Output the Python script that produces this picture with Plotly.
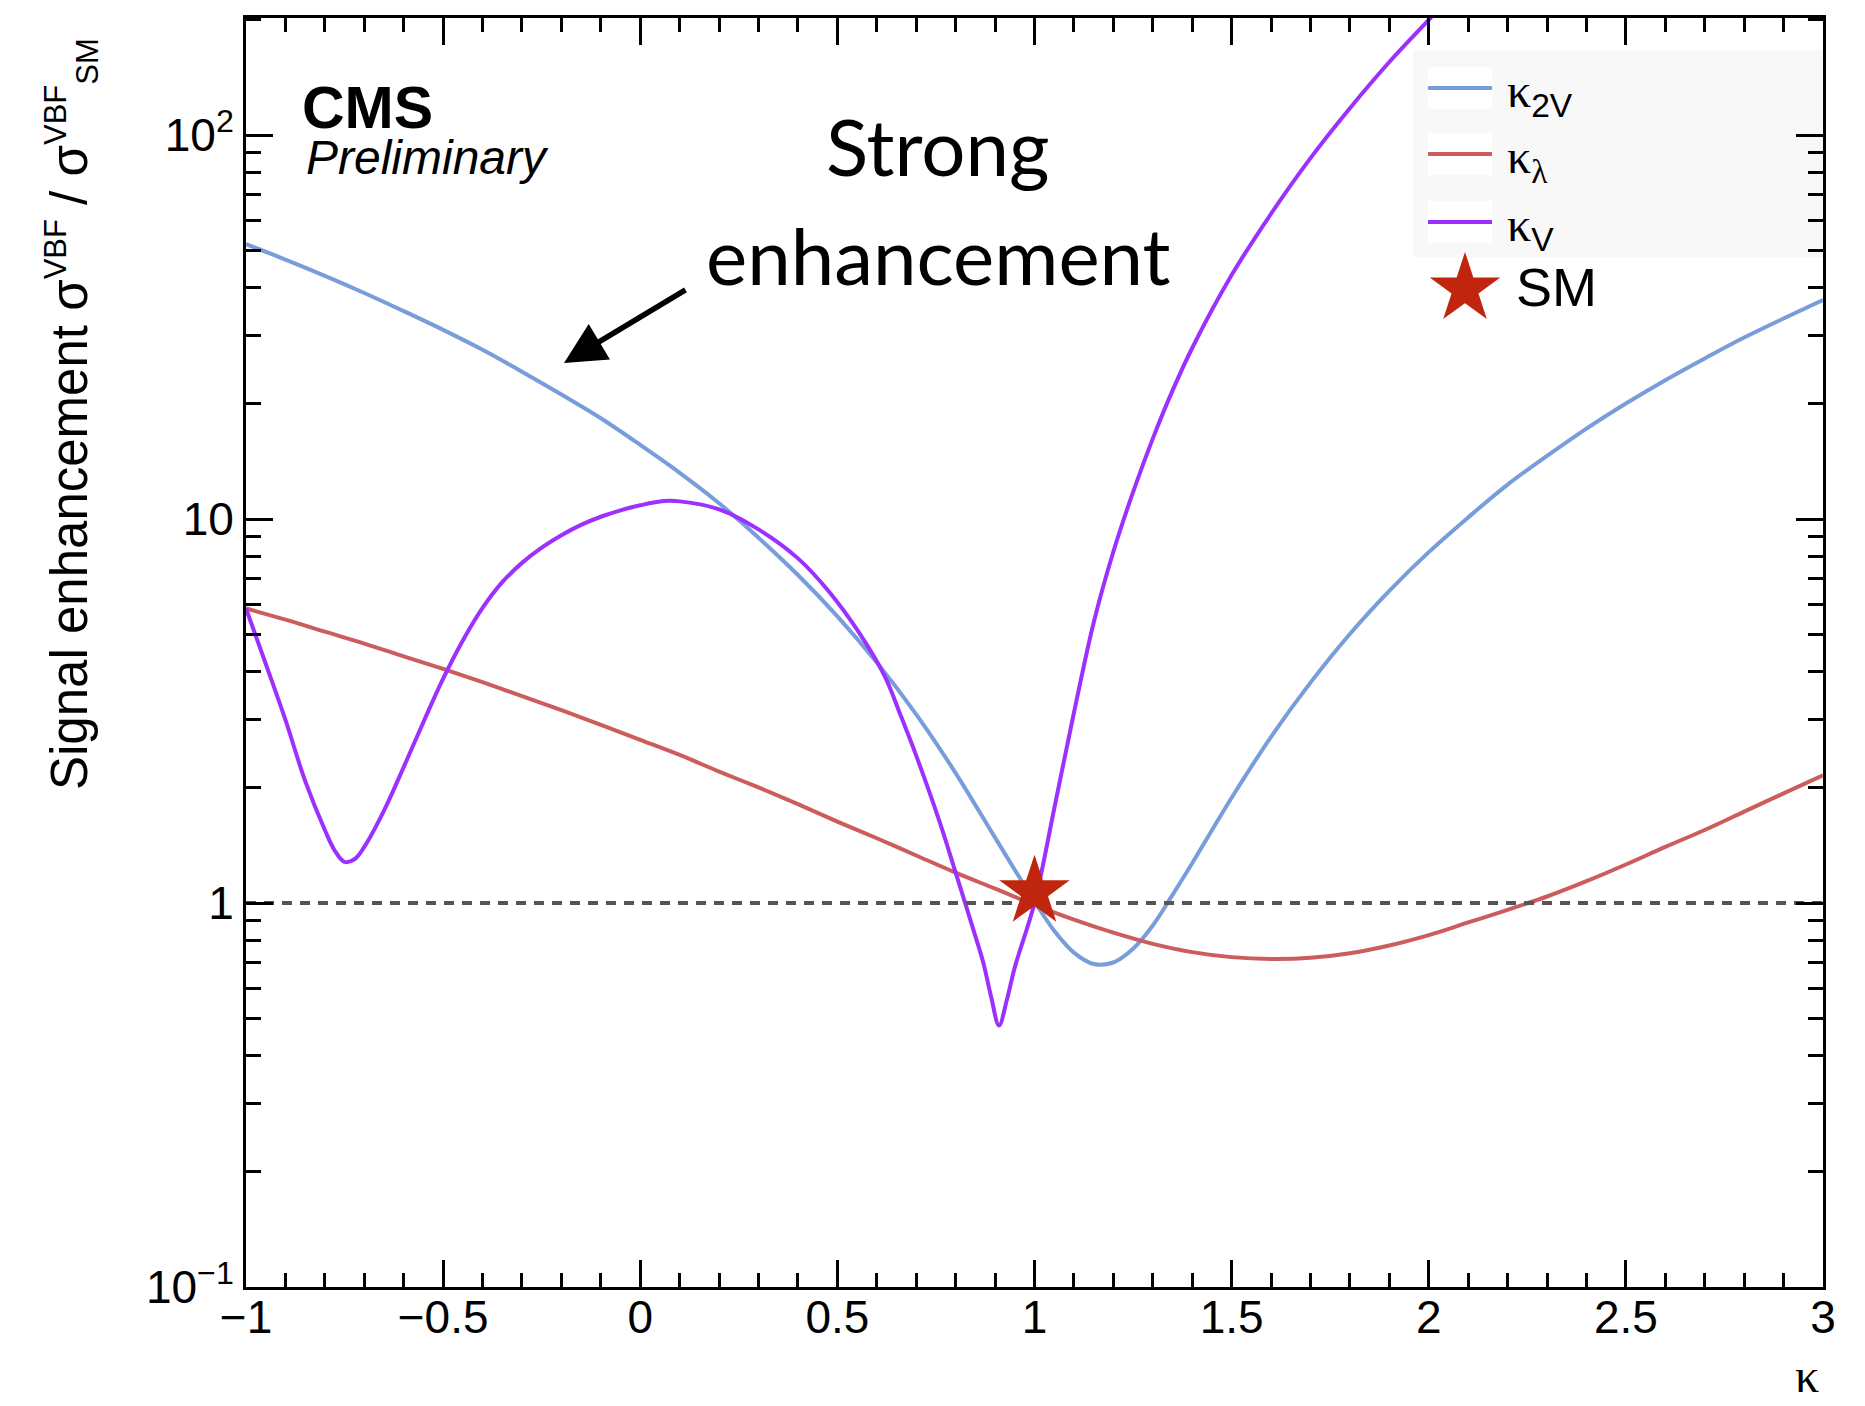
import plotly.graph_objects as go

# ---------------- data ----------------
kappa_2V = [-1.0, -0.9, -0.8, -0.7, -0.6, -0.5, -0.4, -0.3, -0.2, -0.1, 0.0, 0.1, 0.2, 0.3,
            0.4, 0.5, 0.6, 0.7, 0.8, 0.9, 1.0, 1.05, 1.1, 1.15, 1.2, 1.25, 1.3, 1.35, 1.4,
            1.5, 1.6, 1.7, 1.8, 1.9, 2.0, 2.1, 2.2, 2.3, 2.4, 2.5, 2.6, 2.7, 2.8, 2.9, 3.0]
sigma_2V = [52.0, 47.4, 43.0, 38.8, 34.8, 31.1, 27.6, 24.2, 21.1, 18.3, 15.6, 13.2, 11.0, 8.94,
            7.15, 5.58, 4.23, 3.10, 2.18, 1.48, 1.01, 0.847, 0.743, 0.694, 0.70, 0.76, 0.874,
            1.05, 1.27, 1.88, 2.71, 3.75, 5.02, 6.50, 8.20, 10.1, 12.3, 14.6, 17.2, 20.0, 23.0,
            26.2, 29.7, 33.3, 37.2]

kappa_lambda = [-1.0, -0.9, -0.8, -0.7, -0.6, -0.5, -0.4, -0.3, -0.2, -0.1, 0.0, 0.1, 0.2, 0.3,
                0.4, 0.5, 0.6, 0.7, 0.8, 0.9, 1.0, 1.1, 1.2, 1.3, 1.4, 1.5, 1.6, 1.7, 1.8, 1.9,
                2.0, 2.1, 2.2, 2.3, 2.4, 2.5, 2.6, 2.7, 2.8, 2.9, 3.0]
sigma_lambda = [5.85, 5.47, 5.09, 4.74, 4.39, 4.07, 3.76, 3.46, 3.18, 2.91, 2.66, 2.43, 2.20, 2.00,
                1.81, 1.63, 1.475, 1.33, 1.20, 1.09, 0.989, 0.905, 0.837, 0.783, 0.745, 0.723,
                0.715, 0.72, 0.74, 0.775, 0.825, 0.89, 0.96, 1.04, 1.14, 1.26, 1.40, 1.55, 1.73,
                1.93, 2.15]

kappa_V = [-1.0, -0.95, -0.9, -0.85, -0.8, -0.775, -0.75, -0.725, -0.7, -0.65, -0.6, -0.55,
           -0.5, -0.45, -0.4, -0.35, -0.3, -0.25, -0.2, -0.15, -0.1, -0.05, 0.0, 0.06, 0.1,
           0.2, 0.3, 0.4, 0.48, 0.55, 0.62, 0.66, 0.7, 0.76, 0.8, 0.85, 0.87, 0.89, 0.91, 0.93,
           0.95, 1.0, 1.05, 1.1, 1.15, 1.2, 1.25, 1.3, 1.35, 1.4, 1.5, 1.6, 1.7, 1.8, 1.9, 2.0,
           2.05]
sigma_V = [5.85, 4.2, 3.0, 2.08, 1.55, 1.37, 1.28, 1.30, 1.40, 1.74, 2.26, 2.96,
           3.84, 4.83, 5.87, 6.85, 7.69, 8.43, 9.08, 9.66, 10.14, 10.54, 10.86, 11.14, 11.12,
           10.6, 9.4, 7.9, 6.45, 5.15, 3.9, 3.09, 2.42, 1.62, 1.2, 0.82, 0.70, 0.57, 0.48, 0.56,
           0.68, 1.0, 1.76, 3.13, 5.37, 8.22, 11.75, 16.2, 21.6, 27.9, 43.2, 62.4, 87.1, 117.5,
           155.0, 199.5, 226.0]

sm_kappa = [1.0]
sm_value = [1.07]

ref_kappa = [-1.0, 3.0]
ref_value = [1.0, 1.0]

x_tick_step = 0.5
y_tickvals = [0.1, 1, 10, 100]
y_ticktext = ["10<sup>\u22121</sup>", "1", "10", "10<sup>2</sup>"]
y_minor = [m * d for d in (0.1, 1, 10, 100) for m in range(2, 10)]

SANS = "Liberation Sans, Arial, Helvetica, sans-serif"
SERIF = "Liberation Serif, Times New Roman, serif"
legend_labels = [
    "\u03ba<sub><span style='font-family:Liberation Sans'>2V</span></sub>",
    "\u03ba<sub>\u03bb</sub>",
    "\u03ba<sub><span style='font-family:Liberation Sans'>V</span></sub>",
]
y_title = ("Signal enhancement \u03c3<sup><span style='font-size:31px'>VBF</span></sup> / "
           "\u03c3<sup><span style='font-size:31px'>VBF</span></sup>"
           "<sub><span style='font-size:31px'>SM</span></sub>")

# ---------------- style ----------------
BLUE = "#789ddb"
RED = "#cd5c5c"
PURPLE = "#9b30ff"
STAR = "#c0260e"

W, H = 1865, 1406
L, R, T, B = 246, 1823, 18, 1287   # plot area in pixels


def px_x(px):
    return (px - L) / (R - L)


def px_y(py):
    return (B - py) / (B - T)


fig = go.Figure()

for xs, ys, col in [(kappa_2V, sigma_2V, BLUE), (kappa_lambda, sigma_lambda, RED),
                    (kappa_V, sigma_V, PURPLE)]:
    fig.add_trace(go.Scatter(x=xs, y=ys, mode="lines",
                             line=dict(color=col, width=4, shape="spline", smoothing=1.0),
                             showlegend=False, hoverinfo="skip"))

fig.add_trace(go.Scatter(x=ref_kappa, y=ref_value, mode="lines",
                         line=dict(color="#555555", width=4, dash="10px,8px"),
                         showlegend=False, hoverinfo="skip"))

fig.add_trace(go.Scatter(x=sm_kappa, y=sm_value, mode="markers",
                         marker=dict(symbol="star", size=53, color=STAR, line=dict(width=0)),
                         showlegend=False, hoverinfo="skip", cliponaxis=False))

# legend star on an invisible overlay axis
fig.add_trace(go.Scatter(x=[px_x(1465)], y=[px_y(289)], mode="markers", xaxis="x2", yaxis="y2",
                         marker=dict(symbol="star", size=53, color=STAR, line=dict(width=0)),
                         showlegend=False, hoverinfo="skip", cliponaxis=False))

shapes = []
# legend background
shapes.append(dict(type="rect", xref="paper", yref="paper", x0=px_x(1413), x1=1.0,
                   y0=px_y(257), y1=px_y(50), fillcolor="#f8f8f8", line=dict(width=0),
                   layer="below"))
annotations = []
legend_y = [88, 154, 222]
for ly, col, lab in zip(legend_y, [BLUE, RED, PURPLE], legend_labels):
    shapes.append(dict(type="rect", xref="paper", yref="paper", x0=px_x(1428), x1=px_x(1492),
                       y0=px_y(ly + 21), y1=px_y(ly - 21), fillcolor="white",
                       line=dict(width=0), layer="below"))
    shapes.append(dict(type="line", xref="paper", yref="paper", x0=px_x(1428), x1=px_x(1492),
                       y0=px_y(ly), y1=px_y(ly), line=dict(color=col, width=4)))
    annotations.append(dict(xref="paper", yref="paper", x=px_x(1505), y=px_y(ly + 6),
                            xanchor="left", yanchor="middle", showarrow=False,
                            text=lab, font=dict(family=SERIF, size=48, color="black")))

annotations.append(dict(xref="paper", yref="paper", x=px_x(1514), y=px_y(287),
                        xanchor="left", yanchor="middle", showarrow=False, text="SM",
                        font=dict(family=SANS, size=54, color="black")))

# CMS label
annotations.append(dict(xref="paper", yref="paper", x=px_x(300), y=px_y(108),
                        xanchor="left", yanchor="middle", showarrow=False, text="<b>CMS</b>",
                        font=dict(family=SANS, size=59, color="black")))
annotations.append(dict(xref="paper", yref="paper", x=px_x(304), y=px_y(157),
                        xanchor="left", yanchor="middle", showarrow=False, text="<i>Preliminary</i>",
                        font=dict(family=SANS, size=48, color="black")))

# Strong enhancement
annotations.append(dict(xref="paper", yref="paper", x=px_x(938), y=px_y(146),
                        xanchor="center", yanchor="middle", showarrow=False, text="Strong",
                        font=dict(family="Lato, Noto Sans, sans-serif", size=78, color="black")))
annotations.append(dict(xref="paper", yref="paper", x=px_x(938), y=px_y(255),
                        xanchor="center", yanchor="middle", showarrow=False, text="enhancement",
                        font=dict(family="Lato, Noto Sans, sans-serif", size=78, color="black")))

# arrow
annotations.append(dict(xref="paper", yref="paper", x=px_x(564), y=px_y(363),
                        axref="pixel", ayref="pixel", ax=687 - 564, ay=289 - 363,
                        showarrow=True, arrowhead=2, arrowsize=1.5, arrowwidth=5.5,
                        arrowcolor="black", text=""))

# axis titles
annotations.append(dict(xref="paper", yref="paper", x=px_x(71), y=px_y(792),
                        xanchor="center", yanchor="bottom", textangle=-90, showarrow=False,
                        text=y_title, font=dict(family=SANS, size=51, color="black")))
annotations.append(dict(xref="paper", yref="paper", x=px_x(1807), y=px_y(1404),
                        xanchor="center", yanchor="bottom", showarrow=False, text="\u03ba",
                        font=dict(family=SERIF, size=48, color="black")))

axis_common = dict(showgrid=False, zeroline=False, ticks="inside", tickwidth=3,
                   tickcolor="black", linecolor="black", linewidth=3, mirror="ticks",
                   showline=True, tickfont=dict(family=SANS, size=46, color="black"))

fig.update_layout(
    width=W, height=H,
    margin=dict(l=L, r=W - R, t=T, b=H - B, pad=0),
    paper_bgcolor="white", plot_bgcolor="white",
    xaxis=dict(range=[-1, 3], dtick=x_tick_step, tick0=-1, ticklen=27, ticklabelstandoff=-12,
               minor=dict(dtick=0.1, ticks="inside", ticklen=14, tickwidth=3, tickcolor="black"),
               **axis_common),
    yaxis=dict(type="log", range=[-1, 2.305], tickmode="array", tickvals=y_tickvals,
               ticktext=y_ticktext, ticklen=27,
               minor=dict(tickmode="array", tickvals=y_minor, ticks="inside", ticklen=15,
                          tickwidth=3, tickcolor="black"),
               **axis_common),
    xaxis2=dict(overlaying="x", range=[0, 1], visible=False),
    yaxis2=dict(overlaying="y", range=[0, 1], visible=False),
    shapes=shapes,
    annotations=annotations,
    showlegend=False,
)

fig.write_html("out.html")
